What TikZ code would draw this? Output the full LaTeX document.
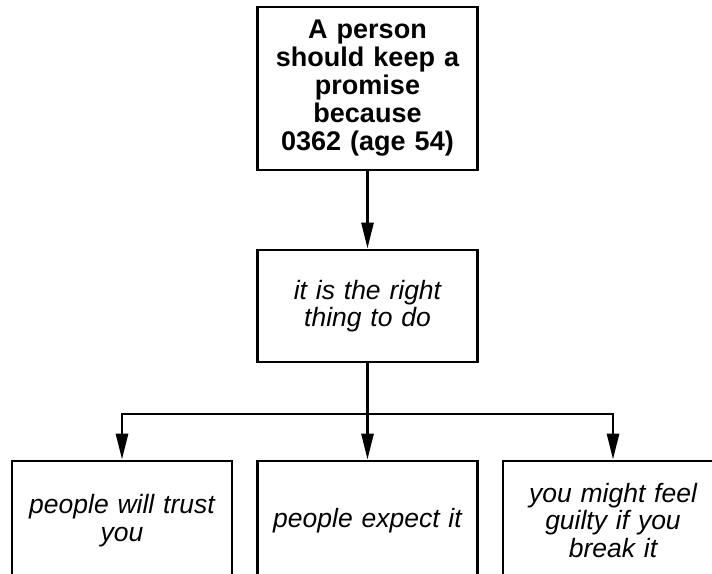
\documentclass[tikz,border=0pt]{standalone}
\usepackage{fontspec}
\setmainfont{Liberation Sans}
\newfontfamily\itfam[WordSpace={1.5,0,0}]{Liberation Sans}
\usetikzlibrary{arrows.meta}
\tikzset{
  box/.style={draw=black, line width=2.8pt, fill=white, minimum width=220pt, align=center, inner sep=0pt, text width=216pt},
  topbox/.style={box, minimum height=163pt, font=\bfseries\fontsize{27}{28}\selectfont},
  txtbox/.style={box, font=\itfam\itshape\fontsize{26.5}{27.5}\selectfont},
  link/.style={line width=2.8pt, draw=black},
  arr/.style={link, -{Triangle[length=26pt, width=12pt]}}
}
\begin{document}
\begin{tikzpicture}[x=1pt, y=-1pt]
\useasboundingbox (0,0) rectangle (712,573);
\node[topbox] (top) at (367.5,88.5) {A person\\should keep a\\promise\\because\\0362 (age 54)};
\node[txtbox, minimum height=112pt] (mid) at (367.5,306) {it is the right\\thing to do};
\node[txtbox, minimum height=119pt] (b1) at (122,520.5) {people will trust\\you};
\node[txtbox, minimum height=119pt] (b2) at (367.5,520.5) {people expect it};
\node[txtbox, minimum height=119pt] (b3) at (613,520.5) {you might feel\\guilty if you\\break it};
\coordinate (bus) at (367.5,414);
\draw[arr] (top) -- (mid);
\draw[link] (mid.south) -- (bus);
\draw[arr] (bus) -| (b1.north);
\draw[arr] (bus) -- (b2.north);
\draw[arr] (bus) -| (b3.north);
\end{tikzpicture}
\end{document}
